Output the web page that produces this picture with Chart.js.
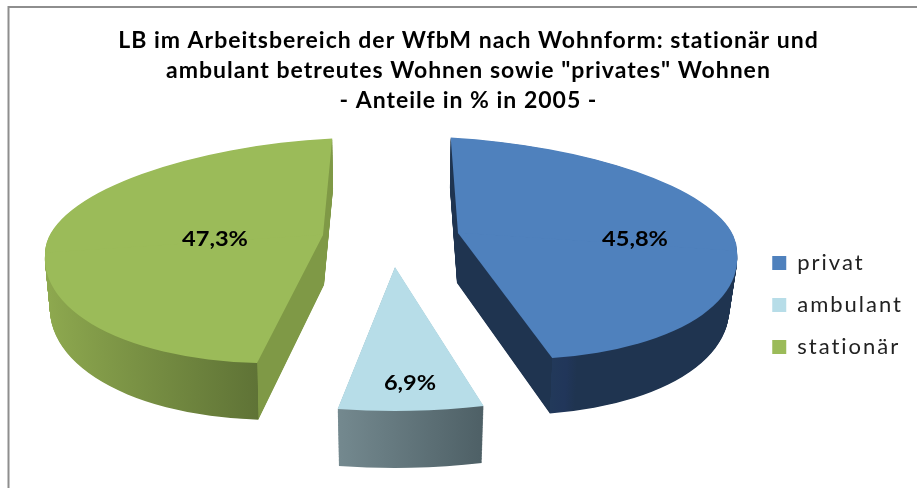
<!DOCTYPE html>
<html><head><meta charset="utf-8">
<style>html,body{margin:0;padding:0;background:#fff;overflow:hidden}#w{position:relative;width:917px;height:488px}</style>
<script src="https://cdn.jsdelivr.net/npm/chart.js@4/dist/chart.umd.min.js"></script>
</head><body><div id="w"><canvas id="c" width="917" height="488"></canvas></div>
<script>
const categories = ['privat', 'ambulant', 'stationär'];
const shares = [45.8, 6.9, 47.3];
const titleLines = ['LB im Arbeitsbereich der WfbM nach Wohnform: stationär und', 'ambulant betreutes Wohnen sowie "privates" Wohnen', '- Anteile in % in 2005 -'];
const faceColors = ['#4f81bd', '#b7dde8', '#9bbb59'];

// projection of each slice (emulates the exploded 3D perspective pie)
const deg = Math.PI / 180;
const projection = [
  { phi: -1.5, top: {cx:458,cy:233,rx:279,ryU:95,ryD:125,sU:0,sD:.12,ty:.065},
    bot: {cx:457,cy:283,rx:272,ryU:95,ryD:131,sU:0,sD:.12,ty:.065},
    wall: [[0,'#1f3450'],[.643,'#1f3450'],[.6431,'#22395a'],[.67,'#21365a'],[.69,'#1f3450'],[1,'#1f3450']],
    label: [635,240] },
  { phi: 0, top: {cx:395,cy:267,rx:340,ryU:100,ryD:144,sU:0,sD:0,ty:0},
    bot: {cx:395,cy:324,rx:333,ryU:100,ryD:144,sU:0,sD:0,ty:0},
    wall: [[0,'#74898f'],[.415,'#74898f'],[.63,'#4e6066'],[1,'#4e6066']],
    label: [410,384] },
  { phi: 1.9, top: {cx:323,cy:235,rx:278,ryU:96,ryD:127,sU:0,sD:-.08,ty:-.065},
    bot: {cx:324,cy:285,rx:274,ryU:96,ryD:134,sU:0,sD:-.08,ty:-.065},
    wall: [[0,'#8ea94f'],[.399,'#5f7336'],[.4,'#7f9946'],[1,'#7f9946']],
    label: [215,240] }
];
const legendShift = { x: -4, y: 48, spacing: '2px' };
const titleSpacing = '1px';

function lerpParams(a, b, t) {
  const o = {};
  for (const k in a) o[k] = a[k] + (b[k] - a[k]) * t;
  return o;
}
function paintArc(ctx, arc, phi, p, fill) {
  const R = arc.outerRadius, orig = arc.options, s = arc.startAngle, e = arc.endAngle;
  const opt = Object.create(orig);
  opt.backgroundColor = fill; opt.borderWidth = 0;
  arc.options = opt; arc.startAngle = s + phi * deg; arc.endAngle = e + phi * deg;
  for (const upper of [true, false]) {
    const ry = upper ? p.ryU : p.ryD, sh = upper ? p.sU : p.sD;
    ctx.save();
    ctx.translate(p.cx, p.cy);
    ctx.transform(p.rx / R, p.ty * p.rx / R, sh * ry / R, ry / R, 0, 0);
    ctx.beginPath();
    if (upper) ctx.rect(-2 * R, -2 * R, 4 * R, 2 * R + .6); else ctx.rect(-2 * R, -.6, 4 * R, 2 * R + .6);
    ctx.clip();
    ctx.translate(-arc.x, -arc.y);
    arc.draw(ctx);
    ctx.restore();
  }
  arc.options = orig; arc.startAngle = s; arc.endAngle = e;
}
const pie3d = {
  id: 'pie3d',
  beforeLayout(chart) {
    chart.ctx.letterSpacing = legendShift.spacing;
  },
  afterLayout(chart) {
    chart.ctx.letterSpacing = '0px';
    const lg = chart.legend;
    if (lg._wrapped) return;
    lg._wrapped = true;
    const drawLegend = lg.draw;
    lg.draw = function () {
      const c = this.ctx;
      c.save();
      c.translate(legendShift.x, legendShift.y);
      c.letterSpacing = legendShift.spacing;
      drawLegend.apply(this, arguments);
      c.restore();
    };
  },
  beforeDraw(chart) {
    const ctx = chart.ctx;
    ctx.save();
    ctx.fillStyle = '#fff'; ctx.fillRect(0, 0, 917, 488);
    ctx.strokeStyle = '#8e8e8e'; ctx.lineWidth = 2;
    ctx.beginPath(); ctx.moveTo(8.5, 488); ctx.lineTo(8.5, 7); ctx.lineTo(917, 7); ctx.stroke();
    ctx.restore();
    ctx.letterSpacing = titleSpacing;
  },
  beforeDatasetsDraw(chart) {
    const ctx = chart.ctx, arcs = chart.getDatasetMeta(0).data;
    ctx.letterSpacing = '0px';
    [0, 2, 1].forEach(i => {
      const arc = arcs[i], P = projection[i], R = arc.outerRadius;
      const g = ctx.createLinearGradient(arc.x - R, 0, arc.x + R, 0);
      P.wall.forEach(([o, c]) => g.addColorStop(o, c));
      for (let n = 70; n >= 1; n--) paintArc(ctx, arc, P.phi, lerpParams(P.top, P.bot, n / 70), g);
      paintArc(ctx, arc, P.phi, P.top, faceColors[i]);
    });
    ctx.save();
    ctx.fillStyle = '#000'; ctx.font = 'bold 20px Lato'; ctx.textAlign = 'center'; ctx.textBaseline = 'middle';
    shares.forEach((v, i) => {
      ctx.save();
      ctx.translate(projection[i].label[0], projection[i].label[1]);
      ctx.scale(1.18, 1);
      ctx.fillText(v.toFixed(1).replace('.', ',') + '%', 0, 0);
      ctx.restore();
    });
    ctx.restore();
    ctx.letterSpacing = titleSpacing;
    return false;
  }
};
new Chart(document.getElementById('c'), {
  type: 'pie',
  data: { labels: categories, datasets: [{ data: shares, backgroundColor: faceColors, borderWidth: 0 }] },
  plugins: [pie3d],
  options: {
    responsive: false, animation: false, rotation: 0,
    layout: { padding: { left: 20, right: 0, top: 26, bottom: 0 } },
    events: [],
    plugins: {
      tooltip: { enabled: false },
      title: { display: true, text: titleLines, color: '#000', padding: { top: 0, bottom: 0 },
               font: { family: 'Lato', size: 23, weight: 'bold', lineHeight: 1.3 } },
      legend: { position: 'right',
        labels: { color: '#222', boxWidth: 14, boxHeight: 14, padding: 20,
                  font: { family: 'Lato', size: 22, lineHeight: 1.2 } } }
    }
  }
});
</script></body></html>
